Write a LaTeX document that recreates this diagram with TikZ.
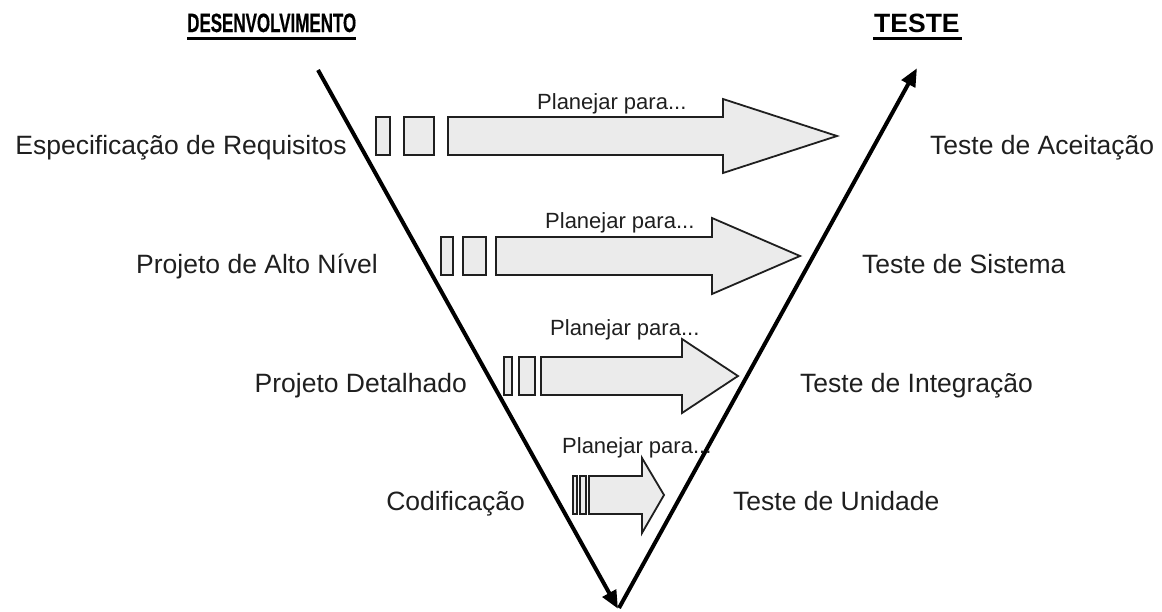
\documentclass[tikz,border=0pt]{standalone}
\usepackage{fontspec}
\setmainfont{Liberation Sans}
\newfontfamily\narrowbf[FakeStretch=0.64,FakeBold=0.4]{Liberation Sans Bold}
\usetikzlibrary{arrows.meta}
\newcommand\blockarr[8]{%
  % #1 x0, #2 base of head, #3 body top, #4 body bottom, #5 head top, #6 head bottom, #7 tip x, #8 tip y
  \draw[blk] (#1,#3) -- (#2,#3) -- (#2,#5) -- (#7,#8) -- (#2,#6) -- (#2,#4) -- (#1,#4) -- cycle;}
\begin{document}
\begin{tikzpicture}[x=1pt,y=-1pt,
  vline/.style={line width=4pt,-{Triangle[length=18pt,width=15pt]}},
  blk/.style={draw=black!88,fill=black!8,line width=1.8pt,line join=miter},
  side/.style={font=\fontsize{26.5}{30}\selectfont,inner sep=0pt,text=black!88},
  plan/.style={font=\fontsize{22}{26}\selectfont,inner sep=0pt,anchor=base west,text=black!88},
  head/.style={inner sep=0pt,anchor=base west}]
\useasboundingbox (0,0) rectangle (1162,611);
% headers
\node[head,font=\narrowbf\fontsize{26.5}{30}\selectfont] (dev) at (187,32) {DESENVOLVIMENTO};
\node[head,font=\fontsize{26.5}{30}\selectfont\bfseries] (tst) at (874,32) {TESTE};
\draw[line width=2.8pt] (187,38.5) -- (356,38.5);
\draw[line width=2.8pt] (873,38.5) -- (962,38.5);
% V lines
\coordinate (tl) at (318,70);
\coordinate (bt) at (617,607);
\coordinate (br) at (619,608);
\coordinate (tr) at (916,70);
\draw[vline,shorten >=-2pt] (tl) -- (bt);
\draw[vline,shorten >=-2pt] (br) -- (tr);
% row 1
\draw[blk] (376,117) rectangle (390,155);
\draw[blk] (404,117) rectangle (434,155);
\blockarr{448}{723}{117}{155}{99}{173}{837}{136}
% row 2
\draw[blk] (441,237) rectangle (453,275);
\draw[blk] (463,237) rectangle (486,275);
\blockarr{496}{712}{237}{275}{218}{294}{800}{256}
% row 3
\draw[blk] (504,357) rectangle (512,395);
\draw[blk] (519,357) rectangle (535,395);
\blockarr{541}{682}{357}{395}{339}{413}{738}{376}
% row 4
\draw[blk] (573,476) rectangle (577,514);
\draw[blk] (580,476) rectangle (586,514);
\blockarr{589}{642}{476}{514}{458}{533}{664}{495}
% planejar labels
\node[plan] (p1) at (537,109) {Planejar para...};
\node[plan] (p2) at (545,228) {Planejar para...};
\node[plan] (p3) at (550,335) {Planejar para...};
\node[plan] (p4) at (562,453) {Planejar para...};
% left labels
\node[side,anchor=base east] (l1) at (347,154) {Especificação de Requisitos};
\node[side,anchor=base east] (l2) at (378,273) {Projeto de Alto Nível};
\node[side,anchor=base east] (l3) at (467,392) {Projeto Detalhado};
\node[side,anchor=base east] (l4) at (525,510) {Codificação};
% right labels
\node[side,anchor=base west] (r1) at (930,154) {Teste de Aceitação};
\node[side,anchor=base west] (r2) at (862,273) {Teste de Sistema};
\node[side,anchor=base west] (r3) at (800,392) {Teste de Integração};
\node[side,anchor=base west] (r4) at (733,510) {Teste de Unidade};
\end{tikzpicture}
\end{document}
